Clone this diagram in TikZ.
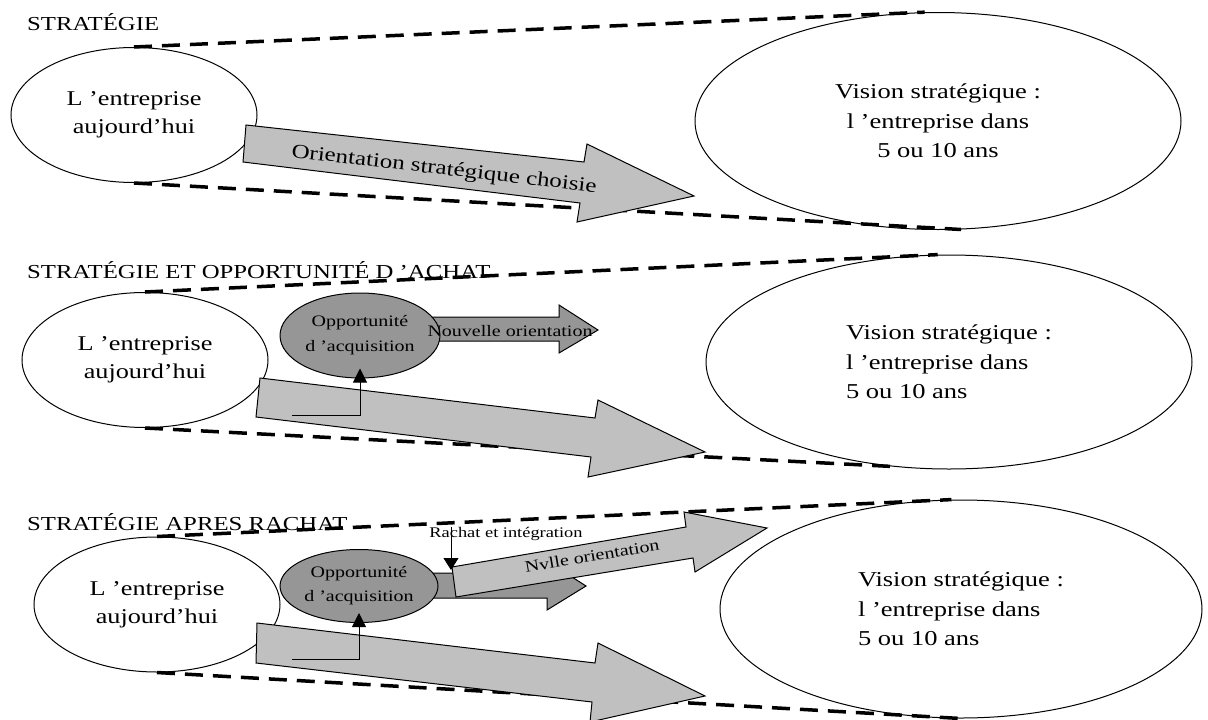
\documentclass[tikz,border=0pt]{standalone}
\usepackage{fontspec}
\setmainfont{Liberation Serif}[FakeStretch=1.25]
\usetikzlibrary{arrows.meta, shapes.geometric}
\usepackage{xcolor}
\definecolor{lightgrey}{RGB}{192,192,192}
\definecolor{darkgrey}{RGB}{150,150,150}

\begin{document}
\begin{tikzpicture}[
    x=1pt,
    y=-1pt,
    >=Latex,
    heading/.style={anchor=base west, inner sep=0pt, font=\fontsize{19.8}{23}\selectfont},
    today/.style={ellipse, draw, line width=1pt, fill=white, align=center, inner sep=0pt, minimum width=246pt, minimum height=135pt, font=\fontsize{21}{28}\selectfont},
    vision/.style={ellipse, draw, line width=1pt, fill=white, inner sep=0pt, minimum width=486pt, minimum height=217pt, font=\fontsize{21.2}{29.5}\selectfont},
    opport/.style={ellipse, draw, line width=1pt, fill=darkgrey, align=center, inner sep=0pt, minimum width=160pt, minimum height=85pt, font=\fontsize{16}{25}\selectfont},
    bigarrow/.style={draw, line width=1pt, fill=lightgrey},
    smallarrow/.style={draw, line width=1pt, fill=darkgrey},
    limit/.style={line width=3.5pt, dash pattern=on 18pt off 10pt},
    line/.style={-{Triangle[length=14pt, width=14pt]}, line width=1pt},
    label/.style={inner sep=0pt, font=\fontsize{16}{19}\selectfont}
]
\useasboundingbox (0,0) rectangle (1208,720);

\node[heading] (head1) at (27,30) {STRATÉGIE};
\node[heading] (head2) at (27,278) {STRATÉGIE ET OPPORTUNITÉ D 'ACHAT};
\node[heading] (head3) at (27,530) {STRATÉGIE APRES RACHAT};

\node[today] (ent1) at (134,115) {L 'entreprise\\aujourd'hui};
\node[vision, align=center] (vis1) at (938,121) {Vision stratégique :\\l 'entreprise dans\\5 ou 10 ans};
\node[today] (ent2) at (145,360) {L 'entreprise\\aujourd'hui};
\node[vision, align=left, minimum height=214pt] (vis2) at (949,362) {Vision stratégique :\\l 'entreprise dans\\5 ou 10 ans};
\node[today] (ent3) at (157,604.5) {L 'entreprise\\aujourd'hui};
\node[vision, align=left, minimum width=482pt, minimum height=218pt] (vis3) at (961,609) {Vision stratégique :\\l 'entreprise dans\\5 ou 10 ans};

\draw[limit] (ent1.north) -- (vis1.97);
\draw[limit] (ent1.south) -- (vis1.-78);
\draw[limit] (ent2.north) -- (vis2.96);
\draw[limit] (ent2.south) -- (vis2.-119);
\draw[limit] (ent3.north) -- (vis3.95);
\draw[limit] (ent3.south) -- (vis3.south);

\draw[bigarrow] (246,125) -- (584,162) -- (587,144) -- (694,196) -- (577,222) -- (580,203) -- (243,162) -- cycle;
\node[label, rotate=-6.6, font=\fontsize{20}{24}\selectfont] (orient) at (444,170) {Orientation stratégique choisie};

\draw[smallarrow] (430,317) -- (559,317) -- (559,305) -- (598,330) -- (559,353) -- (559,341) -- (430,341) -- cycle;
\node[opport] (opp2) at (360,335.5) {Opportunité\\d 'acquisition};
\node[label] (nouvelle) at (510,331) {Nouvelle orientation};
\draw[bigarrow] (260,378) -- (595,418) -- (598,400) -- (705,452) -- (588,477) -- (591,457) -- (256,417) -- cycle;
\coordinate (start2) at (292,415);
\draw[line, shorten >=-10pt] (start2) -| (opp2.south);

\draw[smallarrow] (420,573) -- (547,573) -- (547,561) -- (586,586) -- (547,610) -- (547,598) -- (420,598) -- cycle;
\node[opport, minimum width=158pt, minimum height=73pt, font=\fontsize{16}{24}\selectfont] (opp3) at (359,586) {Opportunité\\d 'acquisition};
\draw[bigarrow] (452,567) -- (686,527) -- (684,512) -- (767,528) -- (695,572) -- (693,558) -- (456,597) -- cycle;
\node[label, rotate=9.7] (nvlle) at (592,556) {Nvlle orientation};
\node[label, anchor=base, font=\fontsize{14.7}{17}\selectfont] (rachat) at (506,537) {Rachat et intégration};
\coordinate (integ) at (451,570);
\draw[-{Triangle[length=12pt, width=15pt]}, line width=1pt] (rachat.north -| integ) -- (integ);
\draw[bigarrow] (257,623) -- (595,663) -- (598,643) -- (705,696) -- (590,722) -- (592,702) -- (256,663) -- cycle;
\coordinate (start3) at (292,659);
\draw[line, shorten >=-10pt] (start3) -| (opp3.south);
\end{tikzpicture}
\end{document}
